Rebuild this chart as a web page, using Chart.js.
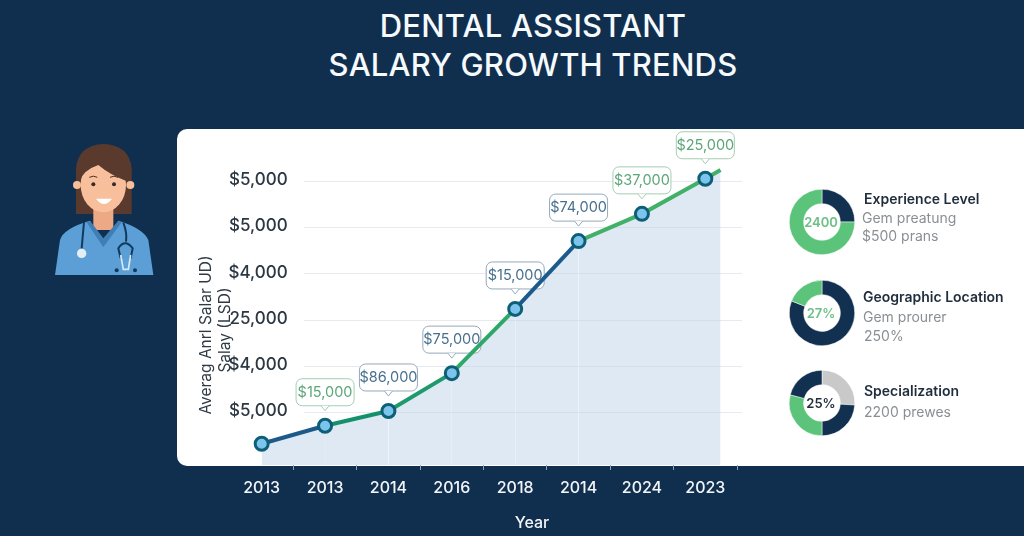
<!DOCTYPE html>
<html>
<head>
<meta charset="utf-8">
<title>Dental Assistant Salary Growth Trends</title>
<script src="https://cdn.jsdelivr.net/npm/chart.js@4"></script>
<style>
html, body { margin: 0; padding: 0; }
body { width: 1024px; height: 536px; background: #102f4f; overflow: hidden; position: relative; font-family: Inter, sans-serif; }
.card { position: absolute; left: 177px; top: 129px; right: 0; height: 337px; background: #fff; border-radius: 10px 0 0 10px; }
#trend { position: absolute; left: 0; top: 0; }
h1 { position: absolute; left: 233px; width: 600px; top: 6px; margin: 0; text-align: center; color: #f7fafc; font-size: 31px; line-height: 39px; font-weight: 500; letter-spacing: 0.2px; }
.abs { position: absolute; white-space: nowrap; }
.rot { transform: translate(-50%, -50%) rotate(-90deg); color: #2f3a44; font-size: 15.5px; }
.yr { transform: translate(-50%, -50%); color: #f2f5f8; font-size: 16px; font-weight: 500; }
.donut { position: absolute; }
.mid { transform: translate(-50%, -50%); font-size: 13px; font-weight: 600; }
.head { color: #1f2d3c; font-size: 14px; font-weight: 600; transform: translateY(-50%); }
.sub { color: #8a8f94; font-size: 14px; transform: translateY(-50%); }
</style>
</head>
<body>
<h1>DENTAL ASSISTANT<br>SALARY GROWTH TRENDS</h1>
<div class="card"></div>

<svg class="abs" style="left:40px;top:130px" width="125" height="155" viewBox="0 0 375 465">
  <path d="M108 252 L108 115 Q115 45 190 42 Q268 45 275 115 L275 252 Z" fill="#5b3a2e"/>
  <rect x="160" y="225" width="60" height="75" fill="#eda985"/>
  <circle cx="111" cy="165" r="12" fill="#f8bf9d"/>
  <circle cx="271" cy="165" r="12" fill="#f8bf9d"/>
  <ellipse cx="190" cy="165" rx="68" ry="82" fill="#f8bf9d"/>
  <path d="M118 155 Q130 120 175 105 Q210 135 264 155 L268 100 Q190 40 114 100 Z" fill="#5b3a2e"/>
  <circle cx="160" cy="163" r="6" fill="#3a2a25"/>
  <circle cx="222" cy="163" r="6" fill="#3a2a25"/>
  <path d="M148 142 Q160 135 172 142 M210 142 Q222 135 234 142" stroke="#4a3026" stroke-width="3" fill="none"/>
  <path d="M168 206 Q192 238 216 206 Z" fill="#fff"/>
  <path d="M45 435 L60 330 Q70 295 150 272 L190 340 L235 272 Q310 295 325 330 L340 435 Z" fill="#5b9fd6"/>
  <path d="M140 277 L190 352 L245 277 L235 272 L190 325 L150 272 Z" fill="#3f7fb5"/>
  <path d="M132 276 L125 355" stroke="#123a5c" stroke-width="6" fill="none"/>
  <circle cx="125" cy="370" r="14" fill="#e6eef5"/>
  <path d="M250 278 Q262 310 258 335" stroke="#123a5c" stroke-width="6" fill="none"/>
  <path d="M242 385 L235 355 Q255 325 278 355 L272 385" stroke="#123a5c" stroke-width="6" fill="none"/>
  <path d="M242 375 L250 418 L265 418 L272 375" stroke="#d7e9f4" stroke-width="5" fill="none"/>
  <circle cx="230" cy="421" r="6" fill="#123a5c"/>
  <circle cx="285" cy="421" r="6" fill="#123a5c"/>
</svg>

<canvas id="trend" width="1024" height="536"></canvas>

<div class="abs rot" style="left:205px;top:335px">Averag Anrl Salar UD)</div>
<div class="abs rot" style="left:224px;top:330px">Salay (LSD)</div>
<div class="abs yr" style="left:532px;top:522px">Year</div>

<canvas id="d1" class="donut" width="66" height="66" style="left:789px;top:189px"></canvas>
<canvas id="d2" class="donut" width="66" height="66" style="left:789px;top:280px"></canvas>
<canvas id="d3" class="donut" width="66" height="66" style="left:789px;top:370px"></canvas>

<div class="abs mid" style="left:821px;top:222px;color:#6cbf86">2400</div>
<div class="abs mid" style="left:821px;top:313px;color:#6cbf86">27%</div>
<div class="abs mid" style="left:821px;top:403px;color:#1f2d3c">25%</div>

<div class="abs head" style="left:864px;top:198px">Experience Level</div>
<div class="abs sub" style="left:862px;top:217px">Gem preatung</div>
<div class="abs sub" style="left:862px;top:235px">$500 prans</div>
<div class="abs head" style="left:863px;top:296px">Geographic Location</div>
<div class="abs sub" style="left:863px;top:316px">Gem prourer</div>
<div class="abs sub" style="left:864px;top:335px">250%</div>
<div class="abs head" style="left:864px;top:390px">Specialization</div>
<div class="abs sub" style="left:864px;top:411px">2200 prewes</div>

<script>
// axis labels, as printed in the picture
const yearLabels = ['2013', '2013', '2014', '2016', '2018', '2014', '2024', '2023'];
const yTickValues = [10000, 20000, 30000, 40000, 50000, 60000];
const yTickLabels = ['$5,000', '$4,000', '25,000', '$4,000', '$5,000', '$5,000'];

// line: last entry is the unmarked tail past 2023
const lineX = [0, 1, 2, 3, 4, 5, 6, 7, 7.24];
const lineY = [2900, 6800, 10000, 18200, 32100, 46800, 52700, 60300, 62200];
const segmentColors = ['#1d5a8a', '#14916c', '#1f9a6e', '#2da868', '#1b5a8c', '#43b06a', '#43b06a', '#43b06a'];

const calloutTexts = ['', '$15,000', '$86,000', '$75,000', '$15,000', '$74,000', '$37,000', '$25,000'];
const calloutGreen = [false, true, false, false, false, false, true, true];

const experienceShares = [25, 75];
const locationShares = [81, 19];
const specializationShares = [26, 24, 29, 21];
const navy = '#123050', green = '#5cc47a', grey = '#c9c9c9';

// grid lines run from just right of the tick labels to past the plot
const softGrid = {
    id: 'softGrid',
    beforeDatasetsDraw(chart) {
        const ctx = chart.ctx;
        ctx.save();
        ctx.strokeStyle = '#e6eaee';
        ctx.lineWidth = 1;
        for (const v of yTickValues) {
            const y = Math.round(chart.scales.y.getPixelForValue(v)) + 1.5;
            ctx.beginPath();
            ctx.moveTo(304, y);
            ctx.lineTo(742, y);
            ctx.stroke();
        }
        ctx.restore();
    }
};

const callouts = {
    id: 'callouts',
    beforeDatasetDraw(chart) {
        const ctx = chart.ctx;
        const pts = chart.getDatasetMeta(0).data;
        ctx.save();
        ctx.font = '14.5px Inter';
        ctx.textAlign = 'center';
        ctx.textBaseline = 'middle';
        calloutTexts.forEach(function (text, i) {
            if (!text) return;
            const p = pts[i];
            const w = 58, h = 27;
            const left = p.x - w / 2, bottom = p.y - 20, top = bottom - h;
            ctx.beginPath();
            ctx.roundRect(left, top, w, h, 6);
            ctx.fillStyle = '#fff';
            ctx.fill();
            ctx.strokeStyle = calloutGreen[i] ? '#a5cdb4' : '#93aabb';
            ctx.lineWidth = 1;
            ctx.stroke();
            // pointer
            ctx.beginPath();
            ctx.moveTo(p.x - 4, bottom);
            ctx.lineTo(p.x, bottom + 5);
            ctx.lineTo(p.x + 4, bottom);
            ctx.fill();
            ctx.stroke();
            ctx.fillStyle = calloutGreen[i] ? '#5aa777' : '#47708f';
            ctx.fillText(text, p.x, top + h / 2);
        });
        ctx.restore();
    }
};

new Chart(document.getElementById('trend'), {
    type: 'line',
    data: {
        labels: yearLabels,
        datasets: [{
            xAxisID: 'xData',
            data: lineX.map(function (x, i) { return { x: x, y: lineY[i] }; }),
            borderWidth: 4,
            borderColor: segmentColors[0],
            segment: { borderColor: function (c) { return segmentColors[c.p0DataIndex]; } },
            tension: 0,
            fill: 'start',
            backgroundColor: 'rgba(190,212,232,0.5)',
            pointRadius: function (c) { return c.dataIndex < 8 ? 6.5 : 0; },
            pointBackgroundColor: '#7cc4ec',
            pointBorderColor: '#0d5f78',
            pointBorderWidth: 3
        }]
    },
    options: {
        responsive: false,
        animation: false,
        layout: { padding: { left: 230, right: 287, top: 134, bottom: 0 } },
        plugins: { legend: { display: false }, tooltip: { enabled: false } },
        scales: {
            x: {
                type: 'category',
                labels: yearLabels,
                offset: true,
                afterFit: function (s) { s.height = 71; },
                border: { display: false },
                grid: {
                    drawOnChartArea: false,
                    tickLength: 5,
                    offset: true,
                    tickColor: function (c) {
                        return c.index === 0 || c.index === yearLabels.length ? 'transparent' : '#8fa3b5';
                    }
                },
                ticks: { color: '#f2f5f8', font: { family: 'Inter', size: 16, weight: '500' }, padding: 9, autoSkip: false, maxRotation: 0 }
            },
            xData: { type: 'linear', display: false, min: -0.5, max: 7.5 },
            y: {
                position: { x: 0.41 },
                min: -1700,
                max: 70000,
                afterBuildTicks: function (s) { s.ticks = yTickValues.map(function (v) { return { value: v }; }); },
                border: { display: false },
                grid: { drawOnChartArea: false, drawTicks: false },
                ticks: {
                    color: '#2b3743',
                    font: { family: 'Inter', size: 17, weight: '500' },
                    padding: 0,
                    callback: function (v) { return yTickLabels[yTickValues.indexOf(v)]; }
                }
            }
        }
    },
    plugins: [softGrid, callouts]
});

function donut(id, values, colors) {
    new Chart(document.getElementById(id), {
        type: 'doughnut',
        data: { datasets: [{ data: values, backgroundColor: colors, borderWidth: 0.5, borderColor: '#fff' }] },
        options: {
            responsive: false,
            animation: false,
            cutout: '56%',
            plugins: { legend: { display: false }, tooltip: { enabled: false } }
        }
    });
}
donut('d1', experienceShares, [navy, green]);
donut('d2', locationShares, [navy, green]);
donut('d3', specializationShares, [grey, navy, green, navy]);
</script>
</body>
</html>
